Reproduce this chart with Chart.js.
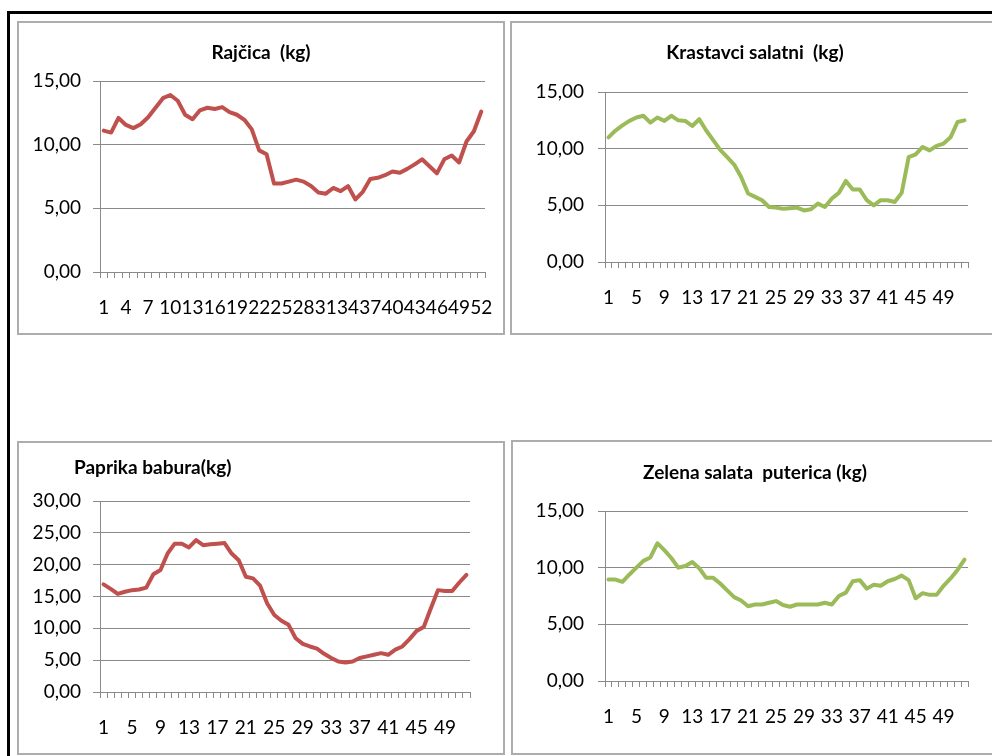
<!DOCTYPE html>
<html>
<head>
<meta charset="utf-8">
<script src="https://cdn.jsdelivr.net/npm/chart.js@4"></script>
<style>
  body { margin: 0; background: #fff; width: 992px; height: 756px; overflow: hidden; position: relative; font-family: Lato, sans-serif; }
  #frame { position: absolute; left: 7px; top: 11px; width: 990px; height: 750px; border-top: 3px solid #000; border-left: 3px solid #000; }
  .panel { position: absolute; border: 2px solid #adadad; box-sizing: border-box; background: #fff; }
  .panel canvas { position: absolute; left: 0; top: 0; }
  .ttl { position: absolute; font: bold 19px Lato, sans-serif; line-height: 20px; color: #000; white-space: pre; }
  .ttl.c { width: 400px; text-align: center; }
</style>
</head>
<body>
<div id="frame"></div>

<div class="panel" style="left:17px;top:21px;width:488px;height:314px"><canvas id="c1" width="484" height="310"></canvas></div>
<div class="panel" style="left:510px;top:21px;width:490px;height:314px"><canvas id="c2" width="486" height="310"></canvas></div>
<div class="panel" style="left:17px;top:441px;width:488px;height:314px"><canvas id="c3" width="484" height="310"></canvas></div>
<div class="panel" style="left:511px;top:440px;width:490px;height:315px"><canvas id="c4" width="486" height="311"></canvas></div>

<div class="ttl c" style="left:61px;top:42px">Rajčica  (kg)</div>
<div class="ttl c" style="left:555px;top:42px">Krastavci salatni  (kg)</div>
<div class="ttl" style="left:74px;top:457px">Paprika babura(kg)</div>
<div class="ttl c" style="left:555px;top:462px">Zelena salata  puterica (kg)</div>

<script>
// week numbers on the category axis
const weeks = ["1","2","3","4","5","6","7","8","9","10","11","12","13","14","15","16","17","18","19","20",
  "21","22","23","24","25","26","27","28","29","30","31","32","33","34","35","36","37","38","39","40",
  "41","42","43","44","45","46","47","48","49","50","51","52"];

// values (kg)
const rajcica = [11.1, 10.95, 12.1, 11.55, 11.3, 11.6, 12.15, 12.9, 13.65, 13.9, 13.45, 12.35, 12.0,
  12.7, 12.9, 12.8, 12.95, 12.55, 12.35, 11.95, 11.2, 9.55, 9.25, 6.95, 6.95, 7.1,
  7.25, 7.1, 6.75, 6.25, 6.15, 6.6, 6.35, 6.75, 5.7, 6.3, 7.3, 7.4, 7.6, 7.9, 7.8, 8.1, 8.45,
  8.85, 8.3, 7.75, 8.85, 9.15, 8.6, 10.25, 11.05, 12.6];

const krastavci = [11.0, 11.6, 12.05, 12.45, 12.75, 12.9, 12.3, 12.75, 12.45, 12.9, 12.5, 12.45, 12.0,
  12.6, 11.6, 10.75, 9.9, 9.25, 8.6, 7.5, 6.05, 5.75, 5.45, 4.85, 4.8, 4.7,
  4.75, 4.8, 4.55, 4.65, 5.15, 4.85, 5.6, 6.1, 7.15, 6.4, 6.4, 5.45, 5.0, 5.45, 5.45, 5.3, 6.1,
  9.25, 9.5, 10.15, 9.85, 10.25, 10.45, 11.0, 12.35, 12.5];

const paprika = [16.9, 16.2, 15.4, 15.75, 16.0, 16.1, 16.4, 18.5, 19.15, 21.75, 23.3, 23.3, 22.7,
  23.85, 23.05, 23.2, 23.3, 23.4, 21.75, 20.7, 18.1, 17.85, 16.7, 13.9, 12.1, 11.2,
  10.55, 8.45, 7.55, 7.15, 6.8, 6.0, 5.35, 4.8, 4.65, 4.8, 5.35, 5.6, 5.85, 6.1, 5.85, 6.65, 7.15,
  8.3, 9.6, 10.2, 13.15, 16.0, 15.85, 15.85, 17.2, 18.4];

const salata = [8.95, 8.95, 8.75, 9.4, 10.0, 10.6, 10.9, 12.15, 11.55, 10.85, 10.0, 10.15, 10.5,
  9.95, 9.1, 9.1, 8.6, 8.0, 7.4, 7.1, 6.6, 6.75, 6.75, 6.9, 7.05, 6.7,
  6.55, 6.75, 6.75, 6.75, 6.75, 6.9, 6.75, 7.5, 7.8, 8.8, 8.9, 8.15, 8.5, 8.4, 8.8, 9.0, 9.3,
  8.9, 7.3, 7.75, 7.6, 7.6, 8.4, 9.05, 9.8, 10.7];

const yMaxSmall = 15;
const yMaxPaprika = 30;
const yStep = 5;

const RED = "#c0504d";
const GREEN = "#9bbb59";
const AXIS = "#8a8a8a";

function makeChart(id, values, color, yMax, labelEvery, box) {
  // box: where the plot sits inside the canvas + axis sizes
  new Chart(document.getElementById(id), {
    type: "line",
    data: {
      labels: weeks,
      datasets: [{
        data: values,
        borderColor: color,
        borderWidth: 4,
        borderJoinStyle: "round",
        borderCapStyle: "round",
        pointRadius: 0,
        tension: 0
      }]
    },
    options: {
      responsive: false,
      animation: false,
      devicePixelRatio: 1,
      layout: { padding: { left: 0, right: box.right, top: box.top, bottom: 0 } },
      plugins: { legend: { display: false }, tooltip: { enabled: false }, title: { display: false } },
      scales: {
        x: {
          offset: true,
          grid: { offset: true, drawOnChartArea: false, drawTicks: true, tickLength: 6, color: AXIS, lineWidth: 1 },
          border: { display: true, color: AXIS, width: 1 },
          ticks: {
            autoSkip: false, maxRotation: 0, minRotation: 0, padding: 18,
            color: "#000", font: { family: "Lato", size: 19 },
            callback: (v, i) => (i % labelEvery === 0 ? weeks[i] : "")
          },
          afterFit: s => { s.height = box.xh; s.paddingLeft = 0; s.paddingRight = 0; }
        },
        y: {
          min: 0, max: yMax,
          grid: { color: AXIS, lineWidth: 1, tickLength: 7 },
          border: { display: true, color: AXIS, width: 1 },
          ticks: {
            stepSize: yStep, padding: box.ypad,
            color: "#000", font: { family: "Lato", size: 19 },
            callback: v => v.toFixed(2).replace(".", ",")
          },
          afterFit: s => { s.width = box.yw; }
        }
      }
    }
  });
}

makeChart("c1", rajcica, RED, yMaxSmall, 3, { top: 58, right: 18, xh: 61, yw: 81, ypad: 12 });
makeChart("c2", krastavci, GREEN, yMaxSmall, 4, { top: 69, right: 30, xh: 71, yw: 93, ypad: 14 });
makeChart("c3", paprika, RED, yMaxPaprika, 4, { top: 58, right: 33, xh: 61, yw: 81, ypad: 12 });
makeChart("c4", salata, GREEN, yMaxSmall, 4, { top: 69, right: 31, xh: 72, yw: 92, ypad: 14 });
</script>
</body>
</html>
